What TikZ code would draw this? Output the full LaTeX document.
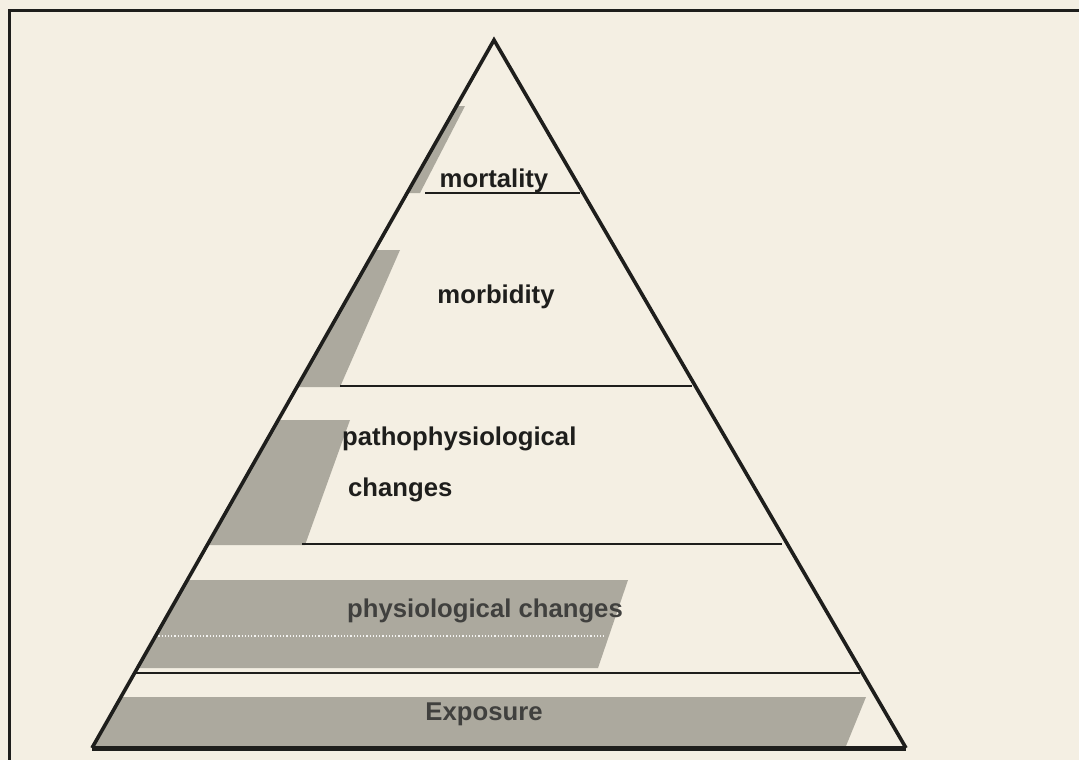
\documentclass[tikz,border=0pt]{standalone}
\usepackage{fontspec}
\setmainfont{Liberation Sans}
\definecolor{paper}{RGB}{244,239,227}
\definecolor{hatch}{RGB}{172,169,158}
\definecolor{ink}{RGB}{30,30,28}
\begin{document}
\begin{tikzpicture}[x=1pt,y=-1pt,
  band/.style={fill=hatch,draw=none},
  sep/.style={draw=ink,line width=1.4pt},
  label/.style={font=\bfseries\fontsize{25.7}{28}\selectfont,text=ink,inner sep=0pt,anchor=base}]
\useasboundingbox (0,0) rectangle (1079,760);
\fill[paper] (0,0) rectangle (1079,760);
% frame
\draw[ink,line width=3pt] (9,760) -- (9,11) -- (1079,11);
% triangle corners
\coordinate (A) at (494,40);
\coordinate (L) at (92,748);
\coordinate (R) at (906,748);
% shaded bands
\path[band] (455,106) -- (465,106) -- (420,193) -- (408,193) -- cycle;
\path[band] (376,250) -- (400,250) -- (340,387) -- (298,387) -- cycle;
\path[band] (278,420) -- (350,420) -- (305,545) -- (207,545) -- cycle;
\path[band] (187,580) -- (628,580) -- (598,668) -- (137,668) -- cycle;
\draw[white!85!hatch,line width=1.2pt,dotted] (152,636) -- (606,636);
\path[band] (121,697) -- (866,697) -- (846,746) -- (93,746) -- cycle;
% separators
\draw[sep] (425,193) -- (580,193);
\draw[sep] (340,386) -- (692,386);
\draw[sep] (302,544) -- (782,544);
\draw[sep,line width=2.6pt] (135,673) -- (860,673);
% triangle
\draw[ink,line width=3.6pt,line join=miter] (L) -- (A) -- (R);
\draw[ink,line width=5pt] (L) -- (R);
% labels
\node[label] (mort) at (494,187) {mortality};
\node[label] (morb) at (496,303) {morbidity};
\node[label,anchor=base west] (patho) at (342,445) {pathophysiological};
\node[label,anchor=base west] (chg) at (348,496) {changes};
\node[label,text=ink!85] (phys) at (485,617) {physiological changes};
\node[label,text=ink!85] (expo) at (484,720) {Exposure};
\end{tikzpicture}
\end{document}
